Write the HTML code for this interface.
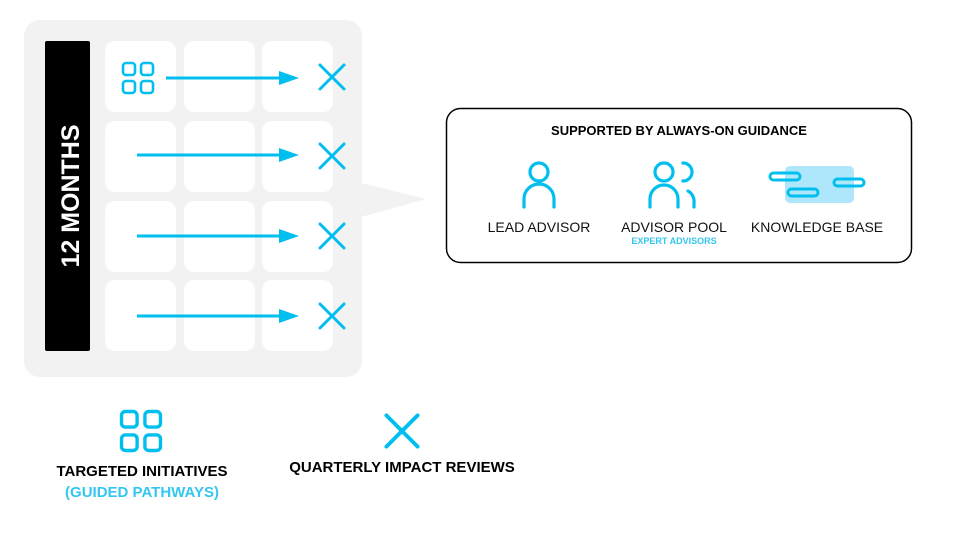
<!DOCTYPE html>
<html><head><style>
body{margin:0;width:960px;height:540px;background:#fff;font-family:"Liberation Sans",sans-serif;overflow:hidden;position:relative}
.t{position:absolute;font-weight:bold;white-space:nowrap;transform:translateX(-50%);}
</style></head><body>
<svg width="960" height="540" style="position:absolute;left:0;top:0">
<defs>
<g id="grid" fill="none" stroke="#00bfef" stroke-width="2.6">
<rect x="-15" y="-15" width="12" height="12" rx="3"/><rect x="3" y="-15" width="12" height="12" rx="3"/>
<rect x="-15" y="3" width="12" height="12" rx="3"/><rect x="3" y="3" width="12" height="12" rx="3"/>
</g>
<g id="x" stroke="#00bfef" stroke-width="3" stroke-linecap="round"><line x1="-12" y1="-12" x2="12" y2="12"/><line x1="12" y1="-12" x2="-12" y2="12"/></g>
</defs>
<rect x="24" y="20" width="338" height="357" rx="16" fill="#f2f2f2"/>
<polygon points="361,183 426,199 361,217" fill="#f2f2f2"/>
<rect x="45" y="41" width="45" height="310" rx="2" fill="#000"/>
<text transform="translate(79,196) rotate(-90)" text-anchor="middle" font-size="25" font-weight="bold" fill="#fff" font-family="Liberation Sans">12 MONTHS</text>
<g fill="#fff">
<rect x="105" y="41" width="71" height="71" rx="10"/><rect x="184" y="41" width="71" height="71" rx="10"/><rect x="262" y="41" width="71" height="71" rx="10"/>
<rect x="105" y="121" width="71" height="71" rx="10"/><rect x="184" y="121" width="71" height="71" rx="10"/><rect x="262" y="121" width="71" height="71" rx="10"/>
<rect x="105" y="201" width="71" height="71" rx="10"/><rect x="184" y="201" width="71" height="71" rx="10"/><rect x="262" y="201" width="71" height="71" rx="10"/>
<rect x="105" y="280" width="71" height="71" rx="10"/><rect x="184" y="280" width="71" height="71" rx="10"/><rect x="262" y="280" width="71" height="71" rx="10"/>
</g>
<use href="#grid" transform="translate(138,78)"/>
<g stroke="#00bfef" stroke-width="3">
<line x1="166" y1="78" x2="282" y2="78"/><line x1="137" y1="155" x2="282" y2="155"/><line x1="137" y1="236" x2="282" y2="236"/><line x1="137" y1="316" x2="282" y2="316"/>
</g>
<g fill="#00bfef">
<polygon points="279,71 299,78 279,85"/><polygon points="279,148 299,155 279,162"/><polygon points="279,229 299,236 279,243"/><polygon points="279,309 299,316 279,323"/>
</g>
<use href="#x" transform="translate(332,77)"/><use href="#x" transform="translate(332,156)"/><use href="#x" transform="translate(332,236)"/><use href="#x" transform="translate(332,316)"/>
<rect x="446.5" y="108.5" width="465" height="154" rx="14" fill="#fff" stroke="#000" stroke-width="1.5"/>
<g fill="none" stroke="#00bfef" stroke-width="3.2" stroke-linecap="round">
<circle cx="539" cy="172" r="9"/><path d="M524 207 V199 a15 15 0 0 1 30 0 V207"/>
<circle cx="664" cy="172" r="9"/><path d="M650 207 V199 a14 14 0 0 1 28 0 V207"/>
<path d="M683 163 a9 9 0 0 1 0 18"/><path d="M688 191 a12 12 0 0 1 6 12 V207"/>
</g>
<rect x="785" y="166" width="69" height="37" rx="5" fill="#aee6fb"/>
<g fill="none" stroke="#00bfef" stroke-width="3">
<rect x="770" y="173" width="30" height="7" rx="3.5"/><rect x="788" y="189" width="30" height="7" rx="3.5"/><rect x="834" y="179" width="30" height="7" rx="3.5"/>
</g>
<use href="#grid" transform="translate(141,431) scale(1.3)"/>
<use href="#x" transform="translate(402,431) scale(1.3)"/>
</svg>
<div class="t" style="left:679px;top:123px;font-size:13px">SUPPORTED BY ALWAYS-ON GUIDANCE</div>
<div class="t" style="left:539px;top:219px;font-size:14px;font-weight:normal;color:#111">LEAD ADVISOR</div>
<div class="t" style="left:674px;top:219px;font-size:14px;font-weight:normal;color:#111">ADVISOR POOL</div>
<div class="t" style="left:674px;top:236px;font-size:9px;color:#33c6f0">EXPERT ADVISORS</div>
<div class="t" style="left:817px;top:219px;font-size:14px;font-weight:normal;color:#111">KNOWLEDGE BASE</div>
<div class="t" style="left:142px;top:463px;font-size:15px">TARGETED INITIATIVES</div>
<div class="t" style="left:142px;top:484px;font-size:15px;color:#33c6f0">(GUIDED PATHWAYS)</div>
<div class="t" style="left:402px;top:459px;font-size:15px">QUARTERLY IMPACT REVIEWS</div>
</body></html>
